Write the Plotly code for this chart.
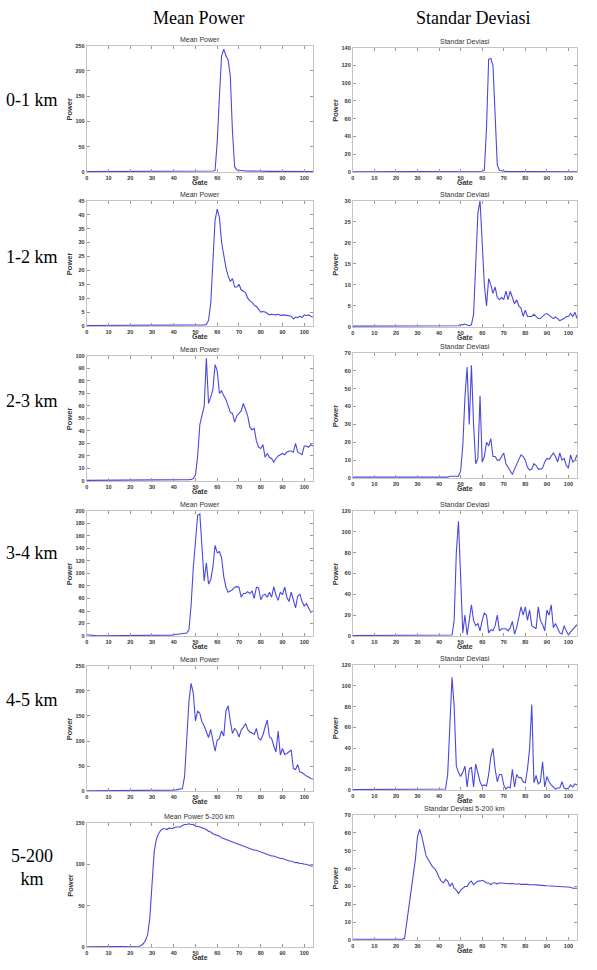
import plotly.graph_objects as go

W, H = 597, 970

gates = list(range(0, 105))

# ---- Row 1: 0-1 km ----
mp_01 = [0.6,0.6,0.5,0.5,0.5,0.5,0.5,0.5,0.5,0.5,
         0.5,0.5,0.5,0.5,0.5,0.5,0.5,0.5,0.5,0.5,
         0.5,0.5,0.5,0.5,0.5,0.5,0.5,0.5,0.5,0.5,
         0.5,0.5,0.5,0.5,0.5,0.5,0.5,0.5,0.5,0.5,
         0.5,0.5,0.6,0.6,0.6,0.6,0.7,0.7,0.7,0.8,
         0.8,0.9,0.9,1.0,1.0,1.1,1.2,1.4,1.8,3.0,
         60,150,230,243,230,222,190,80,10,4,
         3.0,2.6,2.3,2.1,1.9,1.8,1.7,1.6,1.5,1.4,
         1.3,1.3,1.2,1.2,1.1,1.1,1.0,1.0,1.0,1.0,
         0.9,0.9,0.9,0.9,0.9,0.9,0.8,0.8,0.8,0.8,
         0.8,0.8,0.8,0.8,0.8]
sd_01 = [0.3,0.3,0.3,0.3,0.3,0.3,0.3,0.3,0.3,0.3,
         0.3,0.3,0.3,0.3,0.3,0.3,0.3,0.3,0.3,0.3,
         0.3,0.3,0.3,0.3,0.3,0.3,0.3,0.3,0.3,0.3,
         0.3,0.3,0.3,0.3,0.3,0.3,0.3,0.3,0.3,0.3,
         0.3,0.3,0.3,0.3,0.3,0.3,0.3,0.3,0.3,0.3,
         0.3,0.3,0.3,0.4,0.4,0.4,0.4,0.5,0.5,0.6,
         0.8,2,50,127,128,120,60,8,2,1,
         0.8,0.6,0.5,0.5,0.5,0.4,0.4,0.4,0.4,0.4,
         0.4,0.4,0.4,0.4,0.4,0.4,0.4,0.4,0.4,0.4,
         0.3,0.3,0.3,0.3,0.3,0.3,0.3,0.3,0.3,0.3,
         0.3,0.3,0.3,0.3,0.3]

# ---- Row 2: 1-2 km ----
mp_12 = [0.2,0.2,0.2,0.2,0.2,0.2,0.2,0.2,0.2,0.2,
         0.2,0.2,0.2,0.2,0.2,0.2,0.2,0.2,0.2,0.2,
         0.2,0.2,0.2,0.2,0.2,0.2,0.2,0.2,0.2,0.2,
         0.2,0.2,0.2,0.2,0.2,0.2,0.2,0.2,0.2,0.2,
         0.2,0.2,0.2,0.2,0.2,0.2,0.2,0.2,0.2,0.2,
         0.3,0.3,0.3,0.3,0.4,0.5,2.0,8,22,38,
         42,39,30,25,21,18,16,17,14,14,
         15,13,12.5,12,10,9,8.5,7.5,7,6,
         5,5.2,5,4.5,4,4.2,4,4,4.2,3.8,
         4,4,3.8,3.7,3.5,2.5,3.2,3,3.5,3,
         4,3.8,4,3.5,3.2]
sd_12 = [0.2,0.2,0.2,0.2,0.2,0.2,0.2,0.2,0.2,0.2,
         0.2,0.2,0.2,0.2,0.2,0.2,0.2,0.2,0.2,0.2,
         0.2,0.2,0.2,0.2,0.2,0.2,0.2,0.2,0.2,0.2,
         0.2,0.2,0.2,0.2,0.2,0.2,0.2,0.2,0.2,0.2,
         0.2,0.2,0.2,0.2,0.2,0.2,0.2,0.2,0.2,0.3,
         0.6,0.5,0.7,0.4,0.3,0.5,3,15,27,30,
         18,10,5,11.5,10,8,9.5,7,6.5,7,
         6.5,8.5,6.5,8.5,7,5.5,6.5,5,4.5,2.5,
         4,2.5,2.5,2.5,3,2.5,2,2,2.5,3,
         3.2,2.8,2.2,2,2.4,2,1.5,1.8,2,2.5,
         2.5,3.2,2.5,3.5,2]

# ---- Row 3: 2-3 km ----
mp_23 = [0.5,0.5,0.5,0.5,0.5,0.5,0.5,0.5,0.5,0.5,
         0.5,0.5,0.5,0.5,0.5,0.5,0.5,0.5,0.5,0.5,
         0.5,0.5,0.5,0.5,0.5,0.5,0.5,0.5,0.5,0.5,
         0.5,0.5,0.5,0.5,0.5,0.5,0.5,0.5,0.5,0.6,
         0.7,0.8,1.0,1.0,1.0,1.0,1.0,1.1,1.2,2.0,
         5,20,45,52,60,98,62,67,73,93,
         88,70,72,68,65,60,55,54,47,52,
         54,56,62,56,52,43,41,42,32,27,
         26,29,19,22,19,18,15,18,20,21,
         22,21,23,24,24,23,30,23,22,21,
         28,28,27,29,28]
sd_23 = [0.5,0.5,0.5,0.5,0.5,0.5,0.5,0.5,0.5,0.5,
         0.5,0.5,0.5,0.5,0.5,0.5,0.5,0.5,0.5,0.5,
         0.5,0.5,0.5,0.5,0.5,0.5,0.5,0.5,0.5,0.5,
         0.5,0.5,0.5,0.5,0.5,0.5,0.5,0.5,0.5,0.5,
         0.5,0.5,0.5,0.5,0.5,1.0,1.0,1.2,1.0,1.0,
         4,18,45,62,30,63,30,8,11,46,
         9,12,20,18,22,12,12,10,10,12,
         14,8,6,4,2,5,8,10,13,12,
         10,6,4.5,5,8,7,5,5,5.5,9,
         11,10.5,12,14,12,9,14,10,11,7,
         5.5,13,9,10,13]

# ---- Row 4: 3-4 km ----
mp_34 = [2,1.5,1,0.8,0.6,0.5,0.5,0.5,0.5,0.5,
         0.5,0.5,0.5,0.5,0.5,0.5,0.5,0.5,0.5,0.5,
         0.5,0.5,0.5,0.5,0.5,0.5,0.5,0.5,0.5,0.5,
         0.5,0.5,0.5,0.5,0.5,0.6,0.7,0.8,1.0,1.5,
         2,2.5,3,3.5,4,4.5,5,10,50,110,
         160,193,195,140,88,117,83,90,110,145,
         133,135,125,95,78,70,72,74,78,79,
         78,62,68,68,71,68,72,60,78,77,
         58,65,67,62,70,62,79,65,57,70,
         66,78,62,55,70,55,45,64,67,55,
         48,52,45,38,40]
sd_34 = [0.5,0.5,0.5,0.5,0.5,0.5,0.5,0.5,0.5,0.5,
         0.5,0.5,0.5,0.5,0.5,0.5,0.5,0.5,0.5,0.5,
         0.5,0.5,0.5,0.5,0.5,0.5,0.5,0.5,0.5,0.5,
         0.5,0.5,0.5,0.5,0.5,0.5,0.5,0.5,0.5,0.5,
         0.5,0.5,0.5,0.5,1.0,1.0,1.0,15,80,110,
         50,3,20,1,15,30,15,10,12,5,
         15,22,20,3,6,5,10,20,5,7,
         7,7,5,8,14,2,8,17,28,20,
         28,15,25,10,8,7,28,15,11,5,
         25,20,30,8,12,7,3,2,10,5,
         1,4,6,8,11]

# ---- Row 5: 4-5 km ----
mp_45 = [0.5,0.5,0.5,0.5,0.5,0.5,0.5,0.5,0.5,0.5,
         0.5,0.5,0.5,0.5,0.5,0.5,0.5,0.5,0.5,0.5,
         0.5,0.5,0.5,0.5,0.5,0.5,0.5,0.5,0.5,0.5,
         0.5,0.5,0.5,0.5,0.5,0.6,0.7,0.8,1.0,1.5,
         2,2.5,3,4,5,30,110,180,215,195,
         140,160,155,138,130,120,107,123,100,80,
         102,105,120,110,160,170,140,115,125,120,
         108,122,127,135,123,118,116,113,125,105,
         102,112,128,142,108,105,90,78,120,72,
         85,73,75,78,82,45,43,53,38,37,
         33,30,28,25,24]
sd_45 = [0.5,0.5,0.5,0.5,0.5,0.5,0.5,0.5,0.5,0.5,
         0.5,0.5,0.5,0.5,0.5,0.5,0.5,0.5,0.5,0.5,
         0.5,0.5,0.5,0.5,0.5,0.5,0.5,0.5,0.5,0.5,
         0.5,0.5,0.5,0.5,0.5,0.5,0.5,0.5,0.5,0.5,
         0.5,0.5,0.5,1.0,15,70,108,80,23,17,
         13,17,23,3,20,22,3,25,15,8,
         4,5,4,15,32,40,20,8,15,15,
         5,1,3,2,20,3,15,12,12,8,
         7,20,40,82,7,14,6,8,27,3,
         13,8,5,3,1,2,2,8,2,1,
         2,5,3,6,5]

# ---- Row 6: 5-200 km ----
mp_5200 = [0.5,0.5,0.5,0.5,0.5,0.5,0.5,0.5,0.5,0.5,
           0.5,0.5,0.5,0.5,0.5,0.5,0.5,0.5,0.5,0.5,
           0.6,0.7,0.8,0.9,1,2,4,8,15,35,
           75,115,130,137,141,143,143,142,144,143,
           144,145,145,145,147,148,148,149,148,148,
           146,146,145,144,143,142,140,139,137,136,
           135,134,132,131,130,129,128,127,126,125,
           124,123,122,121,120,119,118,117,117,116,
           115,114,113,112,111,110,110,109,108,107,
           107,106,105,104,104,103,102,102,101,101,
           100,100,99,98,98]
sd_5200 = [0.5,0.5,0.5,0.5,0.5,0.5,0.5,0.5,0.5,0.5,
           0.6,0.5,0.5,0.5,0.5,0.5,0.5,0.5,0.5,0.5,
           0.5,0.5,0.5,0.6,1,10,20,28,35,45,
           58,62,58,52,47,45,43,41,40,38,
           35,33,32,34,33,30,32,29,28,26,
           28,29,30,30,32,33,31,32,33,33,
           33.5,33,32,32,31,32,32,31.5,32,32,
           31.8,31.6,31.5,31.7,31.4,31.5,31.3,31.5,31.2,31.3,
           31.0,31.2,31.0,30.8,31.0,30.9,30.7,30.9,30.6,30.5,
           30.4,30.3,30.3,30.1,30.0,30.0,29.8,29.9,29.6,29.5,
           29.3,29.6,29.0,29.2,29.0]

series = [mp_01, sd_01, mp_12, sd_12, mp_23, sd_23,
          mp_34, sd_34, mp_45, sd_45, mp_5200, sd_5200]
titles = ["Mean Power", "Standar Deviasi"] * 5 + ["Mean Power 5-200 km", "Standar Deviasi 5-200 km"]
y_max = [250, 140, 45, 30, 100, 70, 200, 120, 250, 120, 150, 70]
y_step = [50, 20, 5, 5, 10, 10, 20, 20, 50, 20, 50, 10]
row_labels = ["0-1 km", "1-2 km", "2-3 km", "3-4 km", "4-5 km", "5-200<br>km"]
col_headers = ["Mean Power", "Standar Deviasi"]

# ---- layout geometry (pixels) ----
col_x = [(85, 312), (352, 577)]
row_y = [[(43, 170), (45, 170)],
         [(199, 325), (199, 326)],
         [(355, 481), (352, 478)],
         [(511, 637), (511, 637)],
         [(667, 793), (666, 792)],
         [(825, 950), (817, 943)]]
row_label_y = [98, 256, 400, 553, 701, 870]

LINE = "#4848e0"
TXT = "#333333"
SANS = "Liberation Sans"
SERIF = "Liberation Serif"

def px(x):
    return x / W

def py(y):
    return 1 - y / H

fig = go.Figure()
layout = dict(width=W, height=H, margin=dict(l=0, r=0, t=0, b=0),
              paper_bgcolor="white", plot_bgcolor="white", showlegend=False)
annotations = []

def ann(x, y, text, font, angle=0):
    return dict(x=px(x), y=py(y), xref="paper", yref="paper", text=text,
                showarrow=False, xanchor="center", yanchor="middle",
                textangle=angle, align="center", font=font)

for i, ys in enumerate(series):
    r, c = divmod(i, 2)
    k = i + 1
    xa = "x" if k == 1 else f"x{k}"
    ya = "y" if k == 1 else f"y{k}"
    fig.add_trace(go.Scatter(x=gates, y=ys, mode="lines",
                             line=dict(color=LINE, width=1.1),
                             xaxis=xa, yaxis=ya, hoverinfo="skip"))
    x0, x1 = col_x[c]
    t, b = row_y[r][c]
    axcommon = dict(showline=True, mirror="ticks", linecolor="#c4c4c4", linewidth=1,
                    ticks="inside", ticklen=3, tickcolor="#999999", tickwidth=1,
                    showgrid=False, zeroline=False,
                    tickfont=dict(family=SANS, size=5.5, color=TXT, weight="bold"))
    layout["xaxis" + ("" if k == 1 else str(k))] = dict(
        domain=[px(x0), px(x1)], anchor=ya, range=[0, 104],
        tickvals=[0, 10, 20, 30, 40, 50, 60, 70, 80, 90, 100], **axcommon)
    layout["yaxis" + ("" if k == 1 else str(k))] = dict(
        domain=[py(b), py(t)], anchor=xa, range=[0, y_max[i]],
        dtick=y_step[i], tick0=0, **axcommon)
    xm = (x0 + x1) / 2
    annotations.append(ann(xm, t - 6.5, titles[i], dict(family=SANS, size=7, color=TXT)))
    annotations.append(ann(xm, b + 10.5, "Gate", dict(family=SANS, size=7, color=TXT, weight="bold")))
    annotations.append(ann(x0 - 17, (t + b) / 2, "Power",
                           dict(family=SANS, size=7.5, color=TXT, weight="bold"), angle=-90))

for j, txt in enumerate(col_headers):
    xc = [197, 473][j]
    annotations.append(ann(xc, 15, txt, dict(family=SERIF, size=18, color="black")))

for r, txt in enumerate(row_labels):
    annotations.append(ann(30, row_label_y[r], txt, dict(family=SERIF, size=18, color="black")))

layout["annotations"] = annotations
fig.update_layout(**layout)
fig.write_html("out.html")
